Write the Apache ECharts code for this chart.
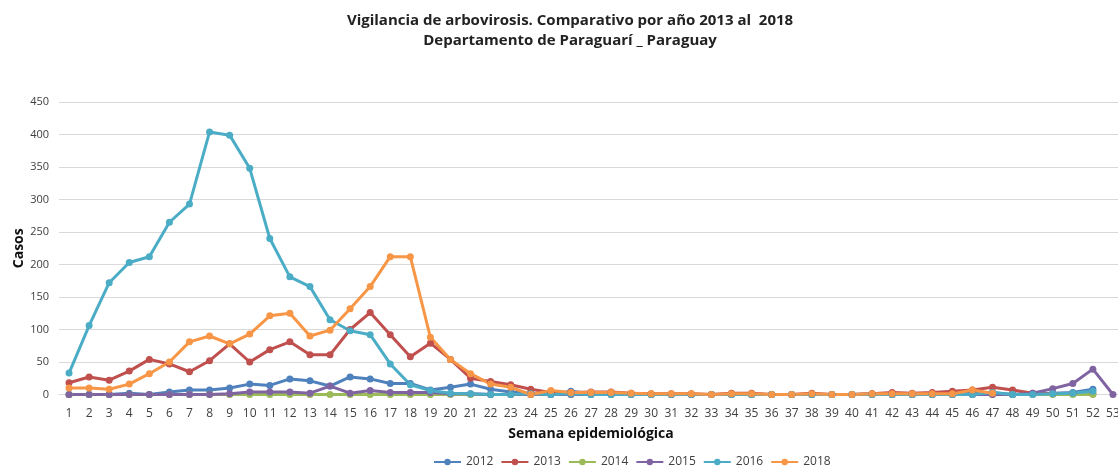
<!DOCTYPE html>
<html>
<head>
<meta charset="utf-8">
<script src="https://cdn.jsdelivr.net/npm/echarts@6/dist/echarts.min.js"></script>
<style>html,body{margin:0;padding:0;background:#fff}#c{width:1118px;height:468px}</style>
</head>
<body>
<div id="c"></div>
<script>
const weeks = Array.from({length: 53}, (_, i) => String(i + 1));
const yearNames = ['2012', '2013', '2014', '2015', '2016', '2018'];
const s2012 = [0,0,0,2,0,4,7,7,10,16,14,24,21,13,27,24,17,17,7,11,16,8,4,2,0,5,1,1,1,0,0,0,0,0,0,0,0,0,0,0,1,0,0,0,0,2,3,0,1,2,3,8,null];
const s2013 = [18,27,22,36,54,47,35,52,78,50,69,81,61,61,100,126,92,58,79,54,25,20,15,8,3,3,4,4,2,1,1,1,0,2,2,0,0,2,0,0,1,3,2,3,5,7,11,7,2,1,1,1,null];
const s2014 = [0,0,0,0,0,0,0,0,0,0,0,0,0,0,0,0,0,0,0,0,0,0,0,0,0,0,0,0,0,0,0,0,0,0,0,0,0,0,0,0,0,0,0,0,0,0,0,0,0,0,0,0,null];
const s2015 = [0,0,0,0,0,0,0,0,1,4,4,4,2,13,2,6,3,3,3,1,1,0,0,0,0,0,0,0,0,0,0,0,0,0,0,0,0,0,0,0,0,0,0,0,0,0,0,0,2,9,17,39,0];
const s2016 = [33,106,172,203,212,265,293,404,399,348,240,181,166,115,98,92,47,15,6,2,1,0,0,1,0,1,0,0,0,0,0,0,0,0,0,0,0,0,0,0,0,0,0,0,0,0,3,0,0,1,2,5,null];
const s2018 = [10,10,8,16,32,50,81,90,78,93,121,125,90,99,132,166,212,212,88,54,32,16,11,0,6,3,3,3,2,1,1,1,0,1,1,0,0,1,0,0,1,1,1,1,1,7,2,null,null,null,null,null,null];
const yTicks = {min: 0, max: 450, interval: 50};

const seriesData = [s2012, s2013, s2014, s2015, s2016, s2018];
const colors = ['#4F81BD', '#C0504D', '#9BBB59', '#8064A2', '#4BACC6', '#F79646'];
const FONT = '"Open Sans", "Noto Sans", sans-serif';

const chart = echarts.init(document.getElementById('c'), null, {renderer: 'canvas'});
chart.setOption({
  animation: false,
  color: colors,
  textStyle: {fontFamily: FONT},
  title: {
    text: 'Vigilancia de arbovirosis. Comparativo por año 2013 al  2018\nDepartamento de Paraguarí _ Paraguay',
    left: 565,
    textAlign: 'center',
    top: 6,
    textStyle: {fontFamily: FONT, fontSize: 15, fontWeight: 'bold', color: '#222', lineHeight: 20}
  },
  legend: {
    data: yearNames,
    left: 428,
    top: 451,
    itemWidth: 27,
    itemHeight: 8,
    itemGap: 7,
    textStyle: {fontFamily: FONT, fontSize: 12, color: '#404040'}
  },
  grid: {left: 59, right: -5, top: 102, bottom: 73.5, outerBoundsMode: 'none', containLabel: false},
  xAxis: {
    type: 'category',
    data: weeks,
    boundaryGap: true,
    name: 'Semana epidemiológica',
    nameLocation: 'middle',
    nameGap: 33,
    nameMoveOverlap: false,
    nameTextStyle: {fontFamily: FONT, fontSize: 14, fontWeight: 'bold', color: '#111'},
    axisLine: {show: true, lineStyle: {color: '#d9d9d9'}},
    axisTick: {show: false},
    axisLabel: {interval: 0, margin: 13, fontSize: 12, color: '#404040', fontFamily: FONT}
  },
  yAxis: {
    type: 'value',
    min: yTicks.min, max: yTicks.max, interval: yTicks.interval,
    name: 'Casos',
    nameLocation: 'middle',
    nameGap: 33,
    nameRotate: 90,
    nameMoveOverlap: false,
    nameTextStyle: {fontFamily: FONT, fontSize: 14, fontWeight: 'bold', color: '#111'},
    axisLine: {show: false},
    axisTick: {show: false},
    axisLabel: {margin: 10, fontSize: 11, color: '#404040', fontFamily: FONT},
    splitLine: {lineStyle: {color: '#d9d9d9', width: 1}}
  },
  series: yearNames.map((n, i) => ({
    name: n,
    type: 'line',
    data: seriesData[i],
    symbol: 'circle',
    symbolSize: 7,
    showAllSymbol: true,
    lineStyle: {width: 3, color: colors[i]},
    itemStyle: {color: colors[i]}
  }))
});
</script>
</body>
</html>
